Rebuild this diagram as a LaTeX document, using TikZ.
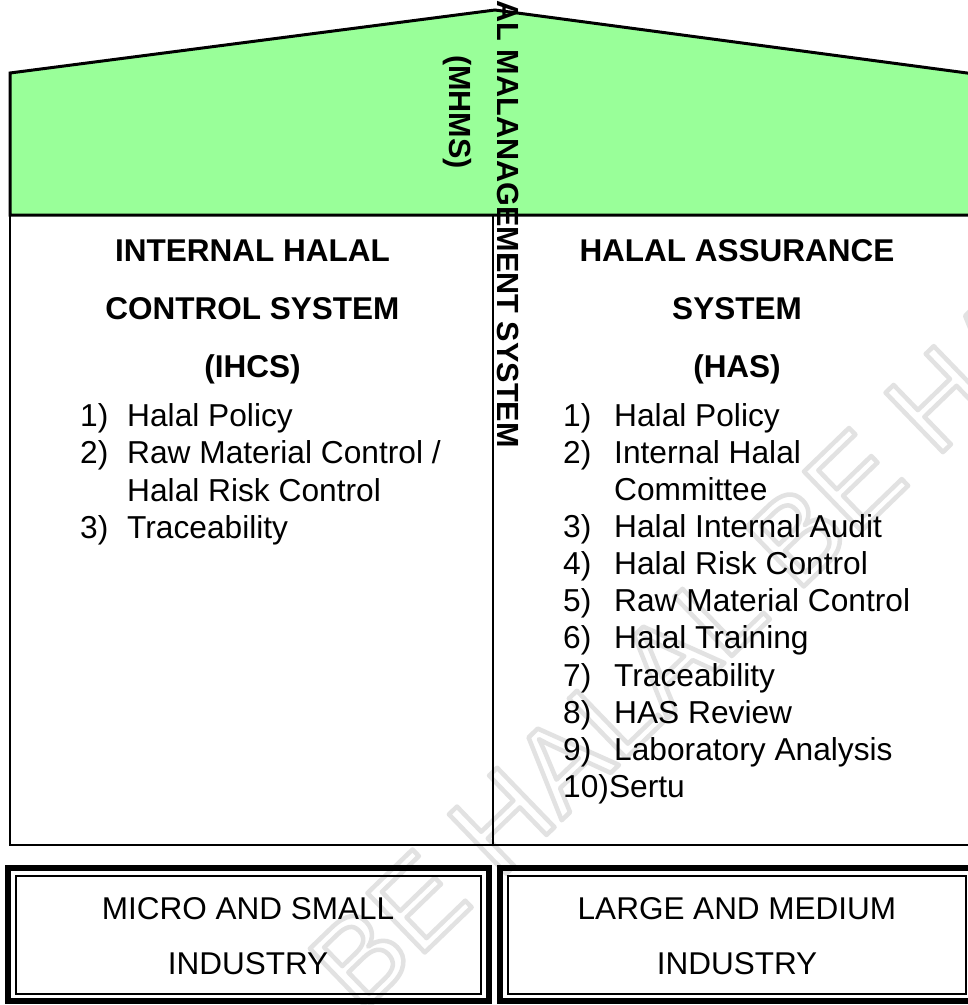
\documentclass[tikz,border=0pt]{standalone}
\usepackage{fontspec}
\setmainfont{Liberation Sans}
\definecolor{roofgreen}{RGB}{153,255,153}
\definecolor{wmgray}{RGB}{226,226,226}
\newcommand{\outlinetext}[1]{\special{pdf:literal direct 1 Tr 4.5 w 1 j}#1\special{pdf:literal direct 0 Tr}}
\begin{document}
\begin{tikzpicture}[x=1pt,y=-1pt,
  frame/.style={draw=black, line width=2.5pt},
  roofbox/.style={draw=black, line width=3pt, fill=roofgreen, line join=miter},
  head/.style={anchor=base, inner sep=0pt, font=\fontsize{31.5}{38}\bfseries\selectfont},
  itemtxt/.style={anchor=base west, inner sep=0pt, font=\fontsize{31.7}{38}\selectfont},
  vert/.style={inner sep=0pt, rotate=-90, font=\fontsize{30.6}{36}\bfseries\selectfont},
  outerframe/.style={draw=black, line width=6pt},
  innerframe/.style={draw=black, line width=1.4pt},
  indtxt/.style={anchor=base, inner sep=0pt, font=\fontsize{31.5}{38}\selectfont},
  wmark/.style={inner sep=0pt, anchor=base west, rotate=44, text=wmgray, font=\fontsize{120}{120}\selectfont}
]
\clip (0,0) rectangle (968,1005);
\fill[white] (0,0) rectangle (968,1005);

% watermark
\node[wmark] (wm) at (360,1015) {\outlinetext{BE HALAL BE HALAL}};

% roof
\draw[roofbox] (10,215) -- (10,73) -- (495,10) -- (982,75) -- (982,215) -- cycle;
% main box
\draw[frame] (10,215) rectangle (982,845);
\coordinate (divtop) at (493,215);
\coordinate (divbot) at (493,845);
\draw[frame] (divtop) -- (divbot);

% vertical title
\node[vert, anchor=base east] (t1) at (497,448) {HALAL MALANAGEMENT SYSTEM};
\node[vert, anchor=base west] (t2) at (449,55) {(MHMS)};

% left column
\node[head] (lh1) at (252.5,261) {INTERNAL HALAL};
\node[head] (lh2) at (252.5,319) {CONTROL SYSTEM};
\node[head] (lh3) at (252.5,377) {(IHCS)};
\node[itemtxt] (ln1) at (80,426) {1)};
\node[itemtxt] (li1) at (127,426) {Halal Policy};
\node[itemtxt] (ln2) at (80,463.5) {2)};
\node[itemtxt] (li2) at (127,463.5) {Raw Material Control /};
\node[itemtxt] (li2b) at (127,501) {Halal Risk Control};
\node[itemtxt] (ln3) at (80,538) {3)};
\node[itemtxt] (li3) at (127,538) {Traceability};

% right column
\node[head] (rh1) at (737,261) {HALAL ASSURANCE};
\node[head] (rh2) at (737,319) {SYSTEM};
\node[head] (rh3) at (737,377) {(HAS)};
\node[itemtxt] (rn1) at (563,426) {1)};
\node[itemtxt] (ri1) at (614,426) {Halal Policy};
\node[itemtxt] (rn2) at (563,463) {2)};
\node[itemtxt] (ri2) at (614,463) {Internal Halal};
\node[itemtxt] (ri2b) at (614,500) {Committee};
\node[itemtxt] (rn3) at (563,537) {3)};
\node[itemtxt] (ri3) at (614,537) {Halal Internal Audit};
\node[itemtxt] (rn4) at (563,574) {4)};
\node[itemtxt] (ri4) at (614,574) {Halal Risk Control};
\node[itemtxt] (rn5) at (563,611) {5)};
\node[itemtxt] (ri5) at (614,611) {Raw Material Control};
\node[itemtxt] (rn6) at (563,648) {6)};
\node[itemtxt] (ri6) at (614,648) {Halal Training};
\node[itemtxt] (rn7) at (563,686) {7)};
\node[itemtxt] (ri7) at (614,686) {Traceability};
\node[itemtxt] (rn8) at (563,723) {8)};
\node[itemtxt] (ri8) at (614,723) {HAS Review};
\node[itemtxt] (rn9) at (563,760) {9)};
\node[itemtxt] (ri9) at (614,760) {Laboratory Analysis};
\node[itemtxt] (rn10) at (563,797) {10)Sertu};

% bottom boxes
\draw[outerframe] (8,868) rectangle (489,1001);
\draw[innerframe] (16,876) rectangle (481,994);
\draw[outerframe] (500,868) rectangle (976,1001);
\draw[innerframe] (508,876) rectangle (966,994);
\node[indtxt] (b1a) at (248,919) {MICRO AND SMALL};
\node[indtxt] (b1b) at (248,974) {INDUSTRY};
\node[indtxt] (b2a) at (737,919) {LARGE AND MEDIUM};
\node[indtxt] (b2b) at (737,974) {INDUSTRY};
\end{tikzpicture}
\end{document}
